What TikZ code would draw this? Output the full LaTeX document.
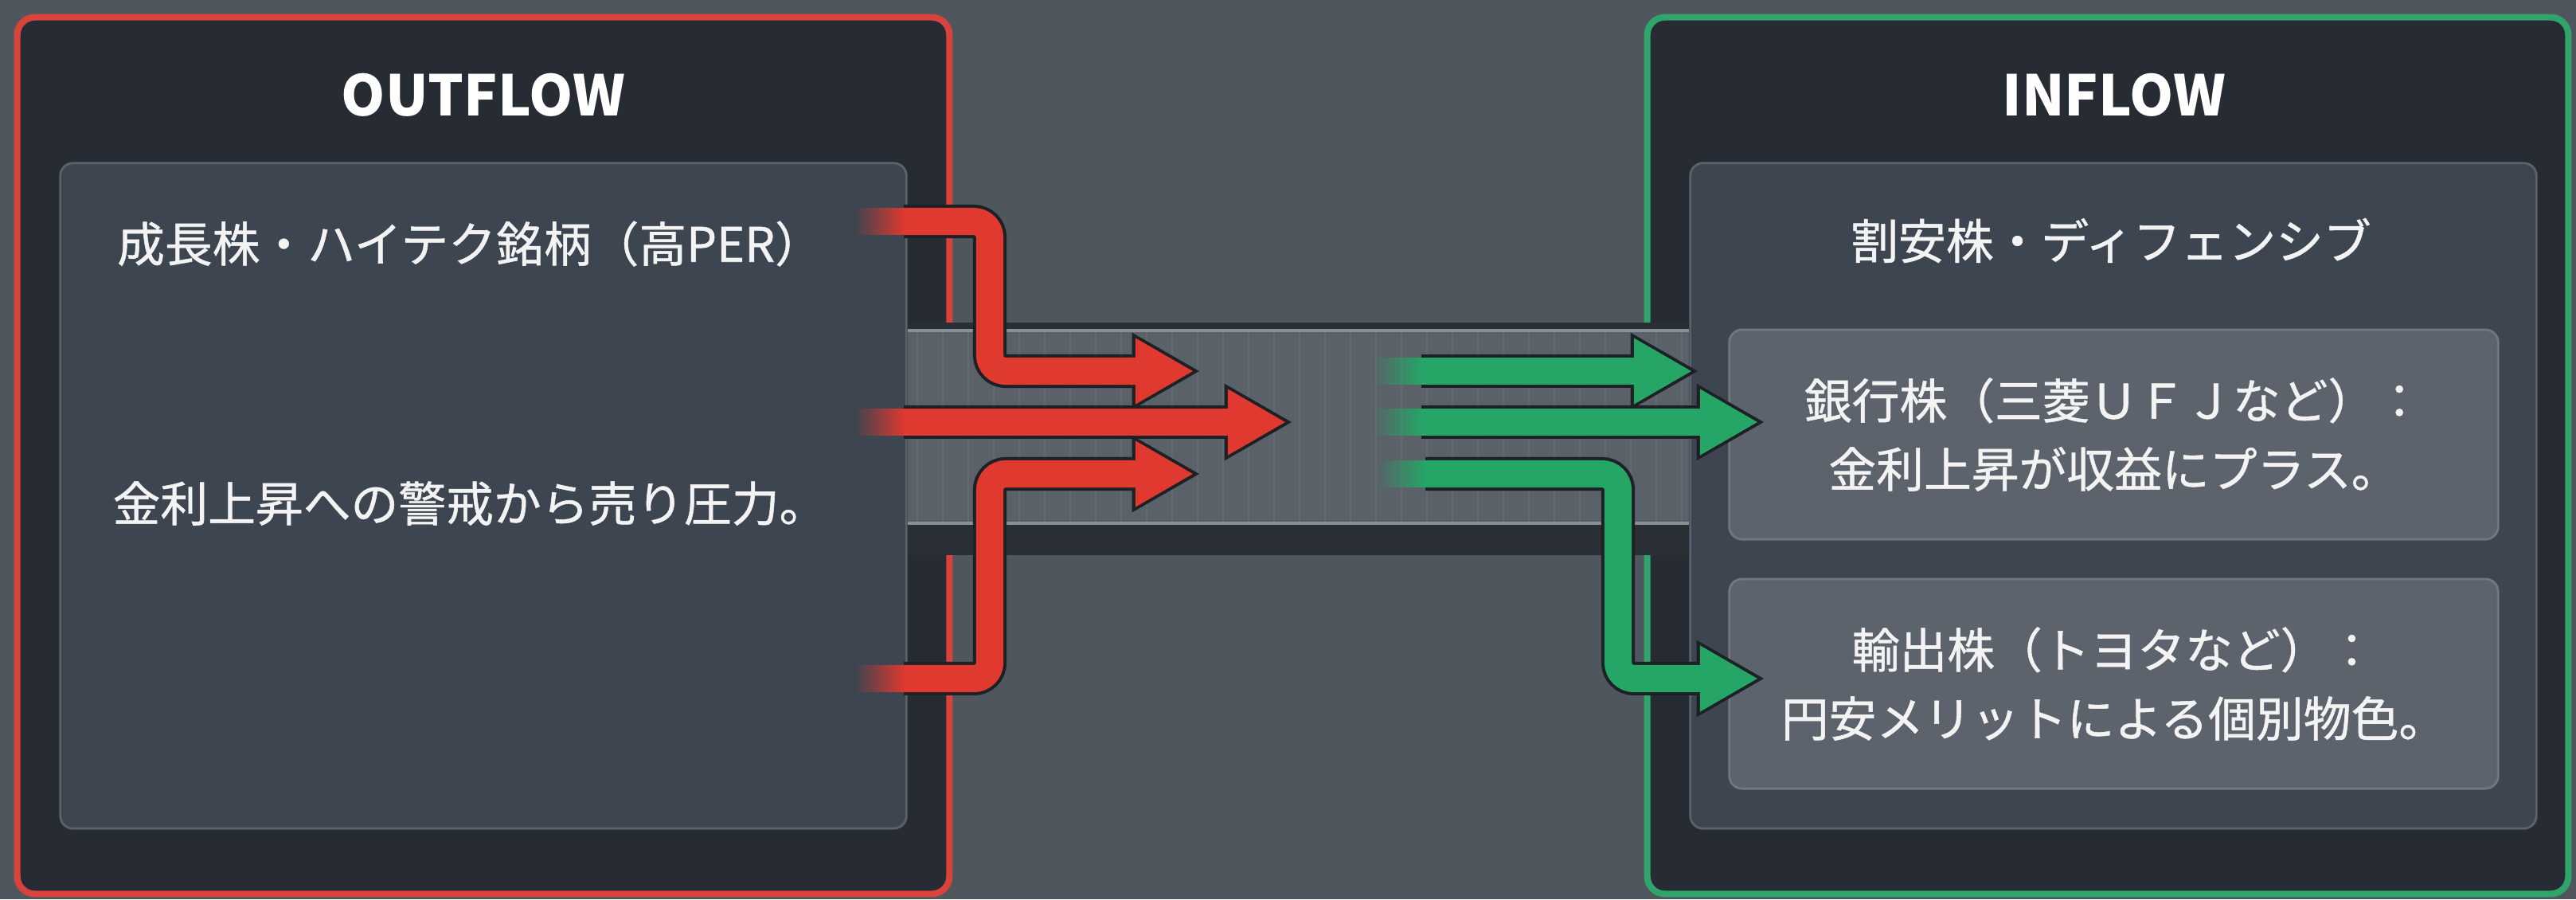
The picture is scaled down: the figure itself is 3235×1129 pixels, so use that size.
\documentclass[tikz,border=0pt]{standalone}
\usepackage{fontspec}
\setmainfont{Noto Sans CJK JP}
\newfontfamily\bodyfont[FakeBold=0.9]{Noto Sans CJK JP}
\usepackage{tikz}
\usetikzlibrary{positioning,arrows.meta,fadings,calc}
\definecolor{bgcol}{HTML}{4F565E}
\definecolor{boxdark}{HTML}{272C34}
\definecolor{panelfill}{HTML}{3D4550}
\definecolor{panelline}{HTML}{5A626B}
\definecolor{subfill}{HTML}{5C636C}
\definecolor{subline}{HTML}{70777F}
\definecolor{outred}{HTML}{D8443C}
\definecolor{ingreen}{HTML}{2FA56C}
\definecolor{flowred}{HTML}{E0392F}
\definecolor{flowgreen}{HTML}{26A666}
\definecolor{arrowedge}{HTML}{1D2024}
\definecolor{banddark}{HTML}{2A2F36}
\definecolor{bandmid}{HTML}{5A6169}
\definecolor{bandedge}{HTML}{8A9097}
\definecolor{textwhite}{HTML}{F3F3F3}
\tikzfading[name=tailfade, left color=transparent!100, right color=transparent!0]

\begin{document}
\begin{tikzpicture}[
    x=0.01cm, y=-0.01cm,
    outerbox/.style={draw, rounded corners=0.22cm, line width=2.3pt, fill=boxdark, minimum width=11.7cm, minimum height=11cm},
    panel/.style={draw=panelline, line width=0.8pt, rounded corners=0.16cm, fill=panelfill, minimum width=10.62cm, minimum height=8.35cm},
    subbox/.style={draw=subline, line width=0.8pt, rounded corners=0.16cm, fill=subfill, minimum width=9.65cm, minimum height=2.63cm, align=center, text=textwhite, font=\bodyfont\fontsize{17pt}{24.5pt}\selectfont},
    headtext/.style={text=white, font=\fontsize{20pt}{24pt}\selectfont\bfseries, inner sep=0pt},
    bodytext/.style={text=textwhite, font=\bodyfont\fontsize{17pt}{24.5pt}\selectfont, inner sep=0pt, align=center},
    redflow/.style={draw=flowred, line width=9.7pt, rounded corners=0.2cm,
      -{Triangle[length=20.5pt, width=23.7pt, line width=0pt]}, shorten >=2.3pt,
      preaction={draw=arrowedge, line width=12pt, -{Triangle[length=24pt, width=27.5pt, line width=0pt]}, shorten >=0pt}},
    greenflow/.style={redflow, draw=flowgreen},
    redtail/.style={fill=flowred, path fading=tailfade},
    greentail/.style={fill=flowgreen, path fading=tailfade}
  ]
    \useasboundingbox (0,0) rectangle (3235,1129);
    \fill[bgcol] (0,0) rectangle (3235,1129);

    % outer boxes and panels
    \node[outerbox, draw=outred] (outbox) at (607,572) {};
    \node[outerbox, draw=ingreen, minimum width=11.56cm] (inbox) at (2647,572) {};
    \node[panel] (outpanel) at (607,622.5) {};
    \node[panel] (inpanel) at (2654,622.5) {};

    % channel between the panels
    \fill[banddark] (outpanel.east |- 0,405) rectangle (inpanel.west |- 0,697);
    \fill[bandmid] (outpanel.east |- 0,414) rectangle (inpanel.west |- 0,658);
    \draw[bandedge, opacity=0.2, line width=0.3pt, step=32] (1138,414) grid (2123,658);
    \draw[bandedge, line width=1.2pt] (outpanel.east |- 0,415) -- (inpanel.west |- 0,415);
    \draw[bandedge, line width=1.2pt] (outpanel.east |- 0,657) -- (inpanel.west |- 0,657);

    \node[subbox] (bankbox) at (2654.5,545.5) {銀行株（三菱ＵＦＪなど）：\\金利上昇が収益にプラス。};
    \node[subbox] (exportbox) at (2654.5,858.5) {輸出株（トヨタなど）：\\円安メリットによる個別物色。};

    % arrows
    \coordinate (rbend) at (1243,0);
    \coordinate (gbend) at (2032,0);
    \coordinate (r1s) at (1135,278);
    \coordinate (r1e) at (1506,466);
    \coordinate (r2s) at (1135,530);
    \coordinate (r2e) at (1622,530);
    \coordinate (r3s) at (1135,852);
    \coordinate (r3e) at (1506,595);
    \coordinate (g1s) at (1785,466);
    \coordinate (g1e) at (2132,466);
    \coordinate (g2s) at (1785,530);
    \coordinate (g2e) at (2215,530);
    \coordinate (g3s) at (1790,595);
    \coordinate (g3e) at (2215,852);

    \foreach \s in {r1s,r2s,r3s}
      \fill[redtail] ($(\s)+(-62,-17)$) rectangle ($(\s)+(1,17)$);
    \foreach \s in {g1s,g2s,g3s}
      \fill[greentail] ($(\s)+(-62,-17)$) rectangle ($(\s)+(1,17)$);

    \draw[redflow] (r1s) -| (rbend |- r1e) -- (r1e);
    \draw[redflow] (r3s) -| (rbend |- r3e) -- (r3e);
    \draw[redflow] (r2s) -- (r2e);
    \draw[greenflow] (g1s) -- (g1e);
    \draw[greenflow] (g2s) -- (g2e);
    \draw[greenflow] (g3s) -| (gbend |- g3e) -- (g3e);

    % texts
    \node[headtext] (outhead) at (607,119) {OUTFLOW};
    \node[headtext] (inhead) at (2655,119) {INFLOW};
    \node[bodytext] (growth) at (590,306) {成長株・ハイテク銘柄（高PER）};
    \node[bodytext] (pressure) at (590,632) {金利上昇への警戒から売り圧力。};
    \node[bodytext] (defensive) at (2651,302) {割安株・ディフェンシブ};
  \end{tikzpicture}
\end{document}
